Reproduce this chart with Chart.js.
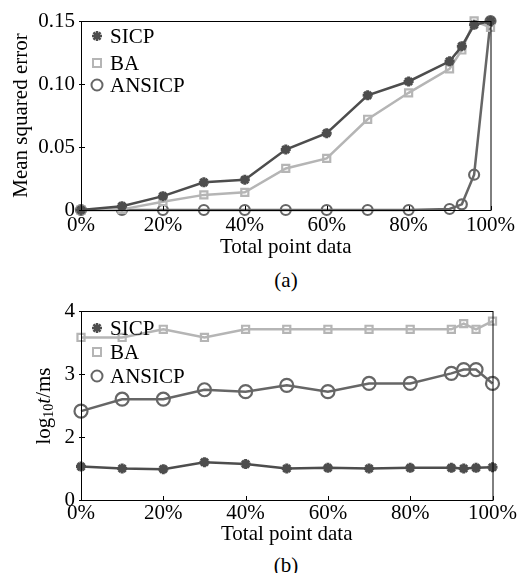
<!DOCTYPE html>
<html>
<head>
<meta charset="utf-8">
<script src="https://cdn.jsdelivr.net/npm/chart.js@4.4.1/dist/chart.umd.min.js"></script>
<style>
  body { margin: 0; background: #fff; }
  #wrap { position: relative; width: 518px; height: 573px; font-family: 'Liberation Serif', serif; }
  .box { position: absolute; left: 0; width: 518px; height: 262px; }
  .cap { position: absolute; width: 518px; left: 27px; text-align: center; font-size: 21px; line-height: 24px; }
</style>
</head>
<body>
<div id="wrap">
  <div class="box" style="top:0"><canvas id="chartA"></canvas></div>
  <div class="cap" style="top:268px">(a)</div>
  <div class="box" style="top:290px"><canvas id="chartB"></canvas></div>
  <div class="cap" style="top:553px">(b)</div>
</div>
<script>
'use strict';

// x positions (percent of total point data)
let pointData = [0, 10, 20, 30, 40, 50, 60, 70, 80, 90, 93, 96, 100];

// (a) mean squared error
let mseSICP = [0, 0.003, 0.011, 0.022, 0.024, 0.048, 0.061, 0.091, 0.102, 0.118, 0.13, 0.147, 0.15];
let mseBA = [0, 0.0005, 0.0066, 0.012, 0.014, 0.033, 0.041, 0.072, 0.093, 0.112, 0.127, 0.15, 0.145];
let mseANSICP = [0, 0, 0, 0, 0, 0, 0, 0, 0, 0.0008, 0.0045, 0.028, 0.15];

// (b) log10 t / ms
let timeSICP = [1.53, 1.5, 1.49, 1.6, 1.57, 1.5, 1.51, 1.5, 1.51, 1.51, 1.5, 1.51, 1.52];
let timeBA = [3.58, 3.58, 3.71, 3.58, 3.71, 3.71, 3.71, 3.71, 3.71, 3.71, 3.8, 3.71, 3.84];
let timeANSICP = [2.41, 2.6, 2.6, 2.75, 2.72, 2.82, 2.72, 2.85, 2.85, 3.01, 3.07, 3.07, 2.85];

// tick labels
let xTicks = [0, 20, 40, 60, 80, 100];
let yTicksA = [0, 0.05, 0.10, 0.15];
let yTickLabelsA = ['0', '0.05', '0.10', '0.15'];
let yTicksB = [1, 2, 3, 4];
let yTickLabelsB = ['0', '2', '3', '4'];

const FONT = 'Liberation Serif';
const FS = 21;
const black = '#000';

// ****************** helpers ******************

function makeSet(label, values, color, style, radius) {
  return {
    label: label,
    data: values.map((v, i) => ({ x: pointData[i], y: v })),
    borderColor: color,
    backgroundColor: 'rgba(0,0,0,0)',
    pointBorderColor: color,
    pointBackgroundColor: 'rgba(255,255,255,0)',
    borderWidth: 2.5,
    pointStyle: style,
    pointRadius: radius,
    pointBorderWidth: style === 'star' ? 3 : 2.2,
    tension: 0,
    clip: false
  };
}

function drawMarker(c, style, x, y, color) {
  c.save();
  c.strokeStyle = color;
  c.lineWidth = style === 'star' ? 2.5 : 2;
  c.beginPath();
  if (style === 'star') {
    for (let k = 0; k < 4; k++) {
      let a = k * Math.PI / 4;
      c.moveTo(x - 5 * Math.cos(a), y - 5 * Math.sin(a));
      c.lineTo(x + 5 * Math.cos(a), y + 5 * Math.sin(a));
    }
  } else if (style === 'rect') {
    c.rect(x - 4, y - 4, 8, 8);
  } else {
    c.arc(x, y, 5.5, 0, Math.PI * 2);
  }
  c.stroke();
  c.restore();
}

// legend, frame and inner ticks
const framePlugin = {
  id: 'frame',
  afterDatasetsDraw(chart, args, opts) {
    const c = chart.ctx;
    const a = chart.chartArea;
    c.save();
    c.strokeStyle = black;
    c.lineWidth = 1;
    c.strokeRect(a.left + 0.5, a.top + 0.5, a.right - a.left, a.bottom - a.top);
    const xs = chart.scales.x;
    const ys = chart.scales.y;
    c.beginPath();
    xTicks.forEach(v => {
      let px = Math.round(xs.getPixelForValue(v)) + 0.5;
      c.moveTo(px, a.bottom);
      c.lineTo(px, a.bottom - 4);
    });
    opts.yTicks.forEach(v => {
      let py = Math.round(ys.getPixelForValue(v)) + 0.5;
      c.moveTo(a.left - 2, py);
      c.lineTo(a.left + 4, py);
    });
    c.stroke();

    // legend
    c.font = FS + 'px "' + FONT + '"';
    c.textBaseline = 'middle';
    chart.data.datasets.forEach((ds, i) => {
      let y = opts.legendY[i];
      drawMarker(c, ds.pointStyle, opts.legendX, y, ds.borderColor);
      c.fillStyle = black;
      c.fillText(ds.label, opts.legendX + 13, y + 1);
    });

    // rich y title
    if (opts.richTitle) {
      c.translate(opts.richTitle.x, opts.richTitle.y);
      c.rotate(-Math.PI / 2);
      let parts = [
        { t: 'log', f: FS + 'px "' + FONT + '"', dy: 0 },
        { t: '10', f: '14px "' + FONT + '"', dy: 5 },
        { t: 't', f: 'italic ' + FS + 'px "' + FONT + '"', dy: 0 },
        { t: '/ms', f: FS + 'px "' + FONT + '"', dy: 0 }
      ];
      let total = 0;
      parts.forEach(p => { c.font = p.f; total += c.measureText(p.t).width; });
      let x = -total / 2;
      parts.forEach(p => {
        c.font = p.f;
        c.fillText(p.t, x, p.dy);
        x += c.measureText(p.t).width;
      });
    }
    c.restore();
  }
};

function buildOptions(yMin, yMax, yTicks, yLabels, yTitle, tickPad, titlePad, legendY, richTitle) {
  return {
    responsive: false,
    animation: false,
    layout: { padding: { top: 21, right: 25, left: 0, bottom: 0 } },
    plugins: {
      legend: { display: false },
      tooltip: { enabled: false },
      frame: { legendX: 97, legendY: legendY, yTicks: yTicks, richTitle: richTitle }
    },
    scales: {
      x: {
        type: 'linear',
        min: 0,
        max: 100,
        afterBuildTicks: s => { s.ticks = xTicks.map(v => ({ value: v })); },
        afterFit: s => { s.height = 52; },
        grid: { display: false, drawTicks: false },
        border: { display: false },
        ticks: {
          padding: tickPad,
          color: black,
          font: { family: FONT, size: FS },
          maxRotation: 0,
          callback: v => v + '%'
        },
        title: {
          display: true,
          text: 'Total point data',
          color: black,
          font: { family: FONT, size: FS },
          padding: { top: 0, bottom: titlePad }
        }
      },
      y: {
        type: 'linear',
        min: yMin,
        max: yMax,
        afterBuildTicks: s => { s.ticks = yTicks.map(v => ({ value: v })); },
        afterFit: s => { s.width = 81; },
        grid: { display: false, drawTicks: false },
        border: { display: false },
        ticks: {
          padding: 6,
          color: black,
          font: { family: FONT, size: FS },
          callback: v => {
            let i = yTicks.findIndex(t => Math.abs(t - v) < 1e-9);
            return i >= 0 ? yLabels[i] : '';
          }
        },
        title: {
          display: !!yTitle,
          text: yTitle || '',
          color: black,
          font: { family: FONT, size: FS },
          padding: { top: 9, bottom: 0 }
        }
      }
    }
  };
}

// ****************** charts ******************

const colSICP = '#4d4d4d';
const colBA = '#b5b5b5';
const colANSICP = '#666666';

function sizeCanvas(id) {
  const cv = document.getElementById(id);
  cv.width = 518;
  cv.height = 262;
  cv.style.width = '518px';
  cv.style.height = '262px';
  return cv.getContext('2d');
}

const chartA = new Chart(sizeCanvas('chartA'), {
  type: 'line',
  data: {
    datasets: [
      makeSet('SICP', mseSICP, colSICP, 'star', 5),
      makeSet('BA', mseBA, colBA, 'rect', 5),
      makeSet('ANSICP', mseANSICP, colANSICP, 'circle', 5)
    ]
  },
  options: buildOptions(0, 0.15, yTicksA, yTickLabelsA, 'Mean squared error', 3, 1.5, [36, 63, 85], null),
  plugins: [framePlugin]
});

const chartB = new Chart(sizeCanvas('chartB'), {
  type: 'line',
  data: {
    datasets: [
      makeSet('SICP', timeSICP, colSICP, 'star', 5),
      makeSet('BA', timeBA, colBA, 'rect', 5),
      makeSet('ANSICP', timeANSICP, colANSICP, 'circle', 6.5)
    ]
  },
  options: buildOptions(1, 4, yTicksB, yTickLabelsB, null, 1, 4.5, [38, 62, 86], { x: 44, y: 116 }),
  plugins: [framePlugin]
});
</script>
</body>
</html>
